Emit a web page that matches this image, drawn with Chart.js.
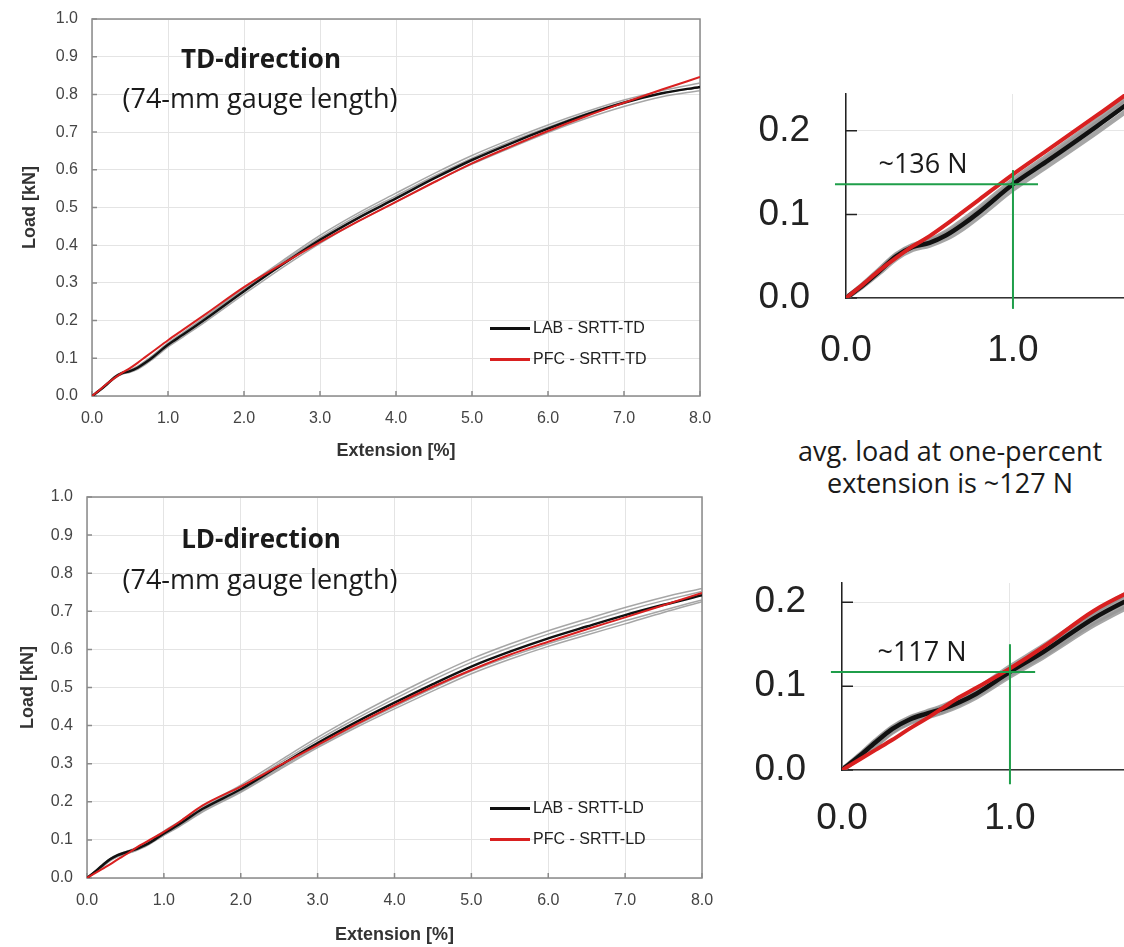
<!DOCTYPE html>
<html>
<head>
<meta charset="utf-8">
<script src="https://cdn.jsdelivr.net/npm/chart.js@4.4.1/dist/chart.umd.min.js"></script>
<style>
  body { margin: 0; background: #fff; width: 1124px; height: 947px; position: relative; overflow: hidden; font-family: "Open Sans", sans-serif; }
  .box { position: absolute; }
  .txt { position: absolute; transform: translate(-50%, -50%); white-space: nowrap; color: #1a1a1a; }
  .leg { position: absolute; transform: translateY(-50%); white-space: nowrap; font: 16px "Liberation Sans", Arial, sans-serif; color: #222; }
  .leg i { display: inline-block; width: 40px; height: 3px; vertical-align: middle; margin-right: 3px; }
</style>
</head>
<body>
<div class="box" style="left:0;top:0;width:720px;height:470px"><canvas id="td"></canvas></div>
<div class="box" style="left:0;top:478px;width:720px;height:475px"><canvas id="ld"></canvas></div>
<div class="box" style="left:720px;top:80px;width:404px;height:300px"><canvas id="tdZoom"></canvas></div>
<div class="box" style="left:720px;top:570px;width:404px;height:280px"><canvas id="ldZoom"></canvas></div>

<div class="txt" style="left:261px;top:58px;font-size:26px;font-weight:700">TD-direction</div>
<div class="txt" style="left:260px;top:97px;font-size:27px">(74-mm gauge length)</div>
<div class="txt" style="left:261px;top:538px;font-size:26px;font-weight:700">LD-direction</div>
<div class="txt" style="left:260px;top:578px;font-size:27px">(74-mm gauge length)</div>

<div class="leg" style="left:490px;top:328px"><i style="background:#111"></i>LAB - SRTT-TD</div>
<div class="leg" style="left:490px;top:359px"><i style="background:#d92020"></i>PFC - SRTT-TD</div>
<div class="leg" style="left:490px;top:808px"><i style="background:#111"></i>LAB - SRTT-LD</div>
<div class="leg" style="left:490px;top:839px"><i style="background:#d92020"></i>PFC - SRTT-LD</div>

<div class="txt" style="left:923px;top:162px;font-size:27px">~136 N</div>
<div class="txt" style="left:922px;top:650px;font-size:27px">~117 N</div>
<div class="txt" style="left:950px;top:450px;font-size:27px">avg. load at one-percent</div>
<div class="txt" style="left:950px;top:482px;font-size:27px">extension is ~127 N</div>

<script>
// extension [%] where every curve is sampled
const extension = [0, 0.1, 0.2, 0.3, 0.4, 0.5, 0.6, 0.7, 0.8, 1.0, 1.2, 1.5, 2.0, 2.5, 3.0, 3.5, 4.0, 4.5, 5.0, 5.5, 6.0, 6.5, 7.0, 7.5, 8.0];

// TD-direction load [kN]
const tdLab = [0, 0.015, 0.032, 0.050, 0.061, 0.066, 0.075, 0.088, 0.103, 0.136, 0.163, 0.205, 0.278, 0.348, 0.414, 0.472, 0.524, 0.577, 0.626, 0.669, 0.709, 0.746, 0.778, 0.803, 0.820];
const tdPfc = [0, 0.016, 0.033, 0.048, 0.062, 0.074, 0.088, 0.103, 0.118, 0.148, 0.176, 0.218, 0.289, 0.350, 0.408, 0.463, 0.515, 0.567, 0.617, 0.661, 0.703, 0.742, 0.778, 0.813, 0.846];
const tdGray1 = [0, 0.016, 0.034, 0.052, 0.063, 0.069, 0.079, 0.093, 0.108, 0.141, 0.169, 0.212, 0.287, 0.358, 0.426, 0.485, 0.538, 0.590, 0.638, 0.680, 0.719, 0.754, 0.785, 0.810, 0.830];
const tdGray2 = [0, 0.014, 0.030, 0.047, 0.058, 0.063, 0.071, 0.083, 0.098, 0.130, 0.157, 0.198, 0.270, 0.340, 0.405, 0.463, 0.515, 0.567, 0.615, 0.658, 0.699, 0.736, 0.768, 0.794, 0.810];
const tdGray3 = [0, 0.015, 0.033, 0.051, 0.062, 0.068, 0.077, 0.090, 0.105, 0.138, 0.166, 0.209, 0.283, 0.354, 0.420, 0.479, 0.531, 0.583, 0.631, 0.674, 0.713, 0.749, 0.780, 0.804, 0.818];

// LD-direction load [kN]
const ldLab = [0, 0.016, 0.033, 0.049, 0.060, 0.067, 0.073, 0.081, 0.091, 0.117, 0.141, 0.181, 0.233, 0.294, 0.354, 0.409, 0.460, 0.509, 0.555, 0.594, 0.629, 0.660, 0.690, 0.717, 0.742];
const ldPfc = [0, 0.012, 0.024, 0.036, 0.049, 0.061, 0.074, 0.087, 0.098, 0.121, 0.147, 0.190, 0.240, 0.295, 0.349, 0.403, 0.454, 0.502, 0.546, 0.586, 0.620, 0.653, 0.684, 0.716, 0.748];
const ldGray1 = [0, 0.017, 0.035, 0.051, 0.062, 0.069, 0.076, 0.085, 0.096, 0.123, 0.148, 0.188, 0.244, 0.307, 0.369, 0.426, 0.479, 0.529, 0.575, 0.614, 0.649, 0.680, 0.710, 0.737, 0.760];
const ldGray2 = [0, 0.016, 0.034, 0.050, 0.061, 0.068, 0.074, 0.083, 0.094, 0.120, 0.145, 0.184, 0.239, 0.301, 0.362, 0.418, 0.470, 0.520, 0.566, 0.605, 0.640, 0.671, 0.701, 0.728, 0.752];
const ldGray3 = [0, 0.014, 0.030, 0.046, 0.057, 0.064, 0.070, 0.079, 0.089, 0.114, 0.137, 0.176, 0.228, 0.288, 0.346, 0.400, 0.450, 0.498, 0.543, 0.581, 0.615, 0.645, 0.675, 0.703, 0.730];
const ldGray4 = [0, 0.014, 0.029, 0.045, 0.056, 0.063, 0.069, 0.077, 0.087, 0.112, 0.135, 0.173, 0.225, 0.284, 0.342, 0.395, 0.444, 0.491, 0.536, 0.574, 0.608, 0.638, 0.667, 0.697, 0.725];

// load at one-percent extension [kN] and crosshair extents
const tdAtOne = 0.136;
const ldAtOne = 0.117;
const crossX = [-0.066, 1.15];
const tdCrossY = [-0.013, 0.153];
const ldCrossY = [-0.017, 0.150];

// tick values
const mainXTicks = [0, 1, 2, 3, 4, 5, 6, 7, 8];
const mainYTicks = [0, 0.1, 0.2, 0.3, 0.4, 0.5, 0.6, 0.7, 0.8, 0.9, 1.0];
const zoomXTicks = [0, 1];
const zoomYTicks = [0, 0.1, 0.2];

function pts(ys) {
  return extension.map((x, i) => ({ x: x, y: ys[i] }));
}

function curves(lab, pfc, grays, w) {
  const sets = [
    { data: pts(pfc), borderColor: "#d92020", borderWidth: w[2] },
    { data: pts(lab), borderColor: "#111", borderWidth: w[1] },
  ];
  grays.forEach((g) => {
    sets.push({ data: pts(g), borderColor: "rgba(150,150,150,0.85)", borderWidth: w[0] });
  });
  return sets;
}

function crosshair(at, ys) {
  const green = { borderColor: "#1f9e4a", borderWidth: 2, clip: false, cubicInterpolationMode: "default", tension: 0 };
  return [
    Object.assign({ data: [{ x: crossX[0], y: at }, { x: crossX[1], y: at }] }, green),
    Object.assign({ data: [{ x: 1, y: ys[0] }, { x: 1, y: ys[1] }] }, green),
  ];
}

// box around the plot and small inward tick marks
const framePlugin = {
  id: "frame",
  beforeDatasetsDraw(chart, args, opts) {
    const ctx = chart.ctx;
    const a = chart.chartArea;
    const sx = chart.scales.x;
    const sy = chart.scales.y;
    ctx.save();
    ctx.strokeStyle = opts.color;
    ctx.lineWidth = opts.width;
    if (opts.box) ctx.strokeRect(a.left, a.top, a.right - a.left, a.bottom - a.top);
    ctx.beginPath();
    if (opts.xTick) {
      sx.ticks.forEach((t) => {
        const px = sx.getPixelForValue(t.value);
        ctx.moveTo(px, a.bottom);
        ctx.lineTo(px, a.bottom - opts.xTick);
      });
    }
    sy.ticks.forEach((t) => {
      const py = sy.getPixelForValue(t.value);
      ctx.moveTo(a.left, py);
      ctx.lineTo(a.left + opts.yTick, py);
    });
    ctx.stroke();
    ctx.restore();
  },
};

// fixed axis sizes, no extra label padding pushed into the layout
function fixX(h) {
  return (s) => { s.height = h; s.paddingLeft = 0; s.paddingRight = 0; };
}
function fixY(w) {
  return (s) => { s.width = w; s.paddingTop = 0; s.paddingBottom = 0; };
}

function mainOptions(pad, yWidth, xHeight) {
  const tickFont = { family: "Liberation Sans", size: 16 };
  const titleFont = { family: "Liberation Sans", size: 18, weight: "bold" };
  return {
    responsive: true,
    maintainAspectRatio: false,
    animation: false,
    layout: { padding: pad },
    elements: { point: { radius: 0 }, line: { cubicInterpolationMode: "monotone" } },
    plugins: {
      legend: { display: false },
      tooltip: { enabled: false },
      frame: { color: "#8a8a8a", width: 1.5, box: true, xTick: 5, yTick: 5 },
    },
    scales: {
      x: {
        type: "linear", min: 0, max: 8,
        afterBuildTicks: (s) => { s.ticks = mainXTicks.map((v) => ({ value: v })); },
        afterFit: fixX(xHeight),
        grid: { color: "#e4e4e4", drawTicks: false },
        border: { display: false },
        ticks: { padding: 13, color: "#444", font: tickFont, callback: (v) => v.toFixed(1) },
        title: { display: true, text: "Extension [%]", color: "#333", font: titleFont },
      },
      y: {
        type: "linear", min: 0, max: 1,
        afterBuildTicks: (s) => { s.ticks = mainYTicks.map((v) => ({ value: v })); },
        afterFit: fixY(yWidth),
        grid: { color: "#e4e4e4", drawTicks: false },
        border: { display: false },
        ticks: { padding: 14, color: "#444", font: tickFont, callback: (v) => v.toFixed(1) },
        title: { display: true, text: "Load [kN]", color: "#333", font: titleFont },
      },
    },
  };
}

function zoomOptions(padTop, yWidth, xHeight, xMax, yMax, xPad) {
  const tickFont = { family: "Liberation Sans", size: 37 };
  return {
    responsive: true,
    maintainAspectRatio: false,
    animation: false,
    layout: { padding: { top: padTop, left: 0, right: 0, bottom: 0 } },
    elements: { point: { radius: 0 }, line: { cubicInterpolationMode: "monotone" } },
    plugins: {
      legend: { display: false },
      tooltip: { enabled: false },
      frame: { color: "#222", width: 1.5, box: false, xTick: 0, yTick: 11 },
    },
    scales: {
      x: {
        type: "linear", min: 0, max: xMax,
        afterBuildTicks: (s) => { s.ticks = zoomXTicks.map((v) => ({ value: v })); },
        afterFit: fixX(xHeight),
        grid: { color: "#e6e6e6", drawTicks: false },
        border: { color: "#333", width: 1.5 },
        ticks: { padding: xPad, color: "#222", font: tickFont, callback: (v) => v.toFixed(1) },
      },
      y: {
        type: "linear", min: 0, max: yMax,
        afterBuildTicks: (s) => { s.ticks = zoomYTicks.map((v) => ({ value: v })); },
        afterFit: fixY(yWidth),
        grid: { color: "#e6e6e6", drawTicks: false },
        border: { color: "#222", width: 1.5 },
        ticks: { padding: 36, color: "#222", font: tickFont, callback: (v) => v.toFixed(1) },
      },
    },
  };
}

new Chart(document.getElementById("td"), {
  type: "line",
  data: { datasets: curves(tdLab, tdPfc, [tdGray1, tdGray2, tdGray3], [1.5, 2.5, 2]) },
  options: mainOptions({ left: 15, top: 19, right: 20, bottom: 4 }, 77, 70),
  plugins: [framePlugin],
});

new Chart(document.getElementById("ld"), {
  type: "line",
  data: { datasets: curves(ldLab, ldPfc, [ldGray1, ldGray2, ldGray3, ldGray4], [1.5, 2.5, 2]) },
  options: mainOptions({ left: 13, top: 19, right: 18, bottom: 3 }, 74, 72),
  plugins: [framePlugin],
});

new Chart(document.getElementById("tdZoom"), {
  type: "line",
  data: { datasets: crosshair(tdAtOne, tdCrossY).concat(curves(tdLab, tdPfc, [tdGray1, tdGray2, tdGray3], [5, 4.5, 4])) },
  options: zoomOptions(14, 126, 82, 1.665, 0.244, 31),
  plugins: [framePlugin],
});

new Chart(document.getElementById("ldZoom"), {
  type: "line",
  data: { datasets: crosshair(ldAtOne, ldCrossY).concat(curves(ldLab, ldPfc, [ldGray1, ldGray2, ldGray3, ldGray4], [5, 4.5, 4])) },
  options: zoomOptions(13, 122, 80, 1.679, 0.223, 27),
  plugins: [framePlugin],
});
</script>
</body>
</html>
